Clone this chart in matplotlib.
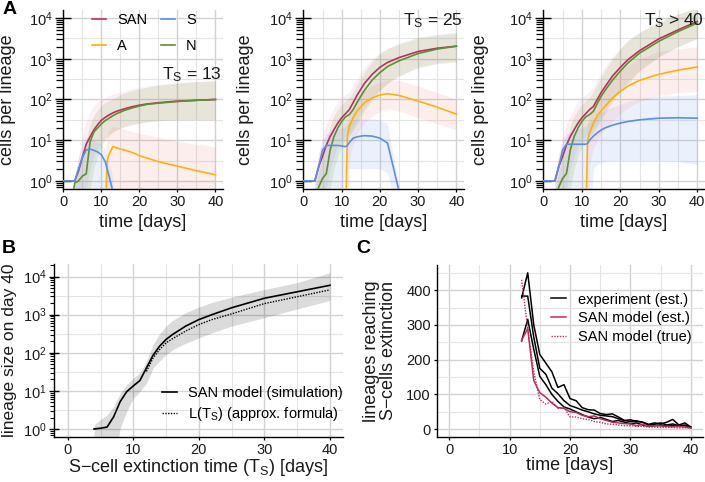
import numpy as np
import matplotlib
matplotlib.use("Agg")
import matplotlib.pyplot as plt
from matplotlib.ticker import LogLocator, MultipleLocator, NullFormatter
from matplotlib.lines import Line2D

plt.rcParams['font.family'] = ['Liberation Sans', 'DejaVu Sans']
plt.rcParams['mathtext.fontset'] = 'custom'
plt.rcParams['mathtext.rm'] = 'Liberation Sans'
plt.rcParams['mathtext.it'] = 'Liberation Sans:italic'
plt.rcParams['mathtext.bf'] = 'Liberation Sans:bold'

nan = np.nan

# ---- panel A: days and log10(cells per lineage) ----
days = [0, 1, 2, 3, 4, 5, 6, 7, 8, 9, 10, 11, 11.5, 12, 13, 14, 15, 16, 18, 20, 22, 25, 30, 35, 40]

# T_S = 13
san_13 = [0, 0, 0, 0, 0.25, 0.58, 0.9, 1.08, 1.25, 1.38, 1.49, 1.56, 1.59, 1.62, 1.67, 1.71, 1.74, 1.77, 1.82, 1.86, 1.89, 1.92, 1.96, 1.98, 2.0]
n_13 = [nan, nan, -0.6, -0.05, 0.0, 0.12, 0.17, 0.95, 1.2, 1.3, 1.4, 1.48, 1.51, 1.54, 1.6, 1.65, 1.69, 1.73, 1.79, 1.84, 1.88, 1.91, 1.95, 1.98, 2.0]
s_13 = [0, 0, 0, 0, 0.3, 0.58, 0.76, 0.78, 0.75, 0.71, 0.64, 0.47, 0.3, 0.12, -0.25] + [nan] * 10
a_13 = [nan] * 11 + [-1, 0.48, 0.65, 0.84, 0.81, 0.78, 0.76, 0.7, 0.62, 0.56, 0.47, 0.36, 0.25, 0.15]
san_13_lo = [nan, nan, nan, -1, -1, -1, -0.2, 0.3, 0.6, 0.8, 0.95, 1.05, 1.1, 1.15, 1.2, 1.25, 1.3, 1.33, 1.38, 1.42, 1.45, 1.48, 1.5, 1.5, 1.5]
san_13_hi = [nan, nan, nan, 0.1, 0.6, 1.1, 1.45, 1.7, 1.85, 1.95, 2.0, 2.05, 2.08, 2.1, 2.13, 2.16, 2.2, 2.22, 2.27, 2.3, 2.33, 2.37, 2.41, 2.44, 2.46]
n_13_lo = [nan, nan, nan, -1, -1, -1, -1, -0.2, 0.3, 0.6, 0.85, 1.0, 1.05, 1.1, 1.2, 1.25, 1.3, 1.33, 1.38, 1.42, 1.45, 1.48, 1.5, 1.5, 1.5]
n_13_hi = [nan, nan, nan, -0.1, 0.3, 0.6, 1.0, 1.4, 1.6, 1.75, 1.85, 1.92, 1.95, 1.97, 2.02, 2.07, 2.12, 2.16, 2.22, 2.26, 2.3, 2.35, 2.4, 2.44, 2.46]
s_13_lo = [nan, nan, nan] + [-1] * 12 + [nan] * 10
s_13_hi = [nan, nan, nan, 0.1, 0.6, 0.95, 1.05, 1.05, 1.0, 0.95, 0.9, 0.75, 0.6, 0.45, 0.1] + [nan] * 10
a_13_lo = [nan] * 11 + [-1] * 14
a_13_hi = [nan] * 11 + [0.5, 1.1, 1.25, 1.34, 1.32, 1.3, 1.27, 1.22, 1.17, 1.13, 1.07, 0.97, 0.9, 0.84]

# T_S = 25
san_25 = [0, 0, 0, 0, 0.35, 0.6, 0.88, 1.09, 1.26, 1.42, 1.55, 1.65, 1.7, 1.75, 1.92, 2.1, 2.25, 2.4, 2.62, 2.79, 2.91, 3.03, 3.18, 3.26, 3.31]
n_25 = [nan, nan, nan, -0.6, -0.15, 0.06, 0.18, 0.76, 1.09, 1.3, 1.46, 1.57, 1.6, 1.63, 1.75, 1.92, 2.08, 2.23, 2.48, 2.66, 2.81, 2.95, 3.13, 3.24, 3.31]
s_25 = [0, 0, 0, 0, 0.35, 0.76, 0.87, 0.87, 0.87, 0.87, 0.86, 0.84, 0.87, 0.94, 1.05, 1.08, 1.1, 1.11, 1.1, 1.05, 0.93, -0.25, nan, nan, nan]
a_25 = [nan] * 11 + [-1, 1.09, 1.34, 1.55, 1.71, 1.82, 1.92, 2.04, 2.11, 2.14, 2.1, 1.96, 1.81, 1.64]
san_25_lo = [nan, nan, nan, -1, -1, -1, -0.2, 0.3, 0.6, 0.85, 1.0, 1.1, 1.15, 1.2, 1.35, 1.5, 1.65, 1.8, 2.05, 2.25, 2.4, 2.58, 2.8, 2.9, 2.95]
san_25_hi = [nan, nan, nan, 0.1, 0.7, 1.1, 1.4, 1.6, 1.8, 1.95, 2.05, 2.12, 2.16, 2.2, 2.35, 2.5, 2.65, 2.8, 3.0, 3.15, 3.25, 3.35, 3.5, 3.58, 3.62]
n_25_lo = [nan, nan, nan, -1, -1, -1, -1, -0.2, 0.3, 0.6, 0.85, 1.0, 1.05, 1.1, 1.25, 1.4, 1.55, 1.72, 2.0, 2.22, 2.4, 2.58, 2.78, 2.88, 2.92]
n_25_hi = [nan, nan, nan, -0.2, 0.2, 0.6, 1.0, 1.35, 1.6, 1.75, 1.88, 1.97, 2.0, 2.05, 2.2, 2.35, 2.52, 2.68, 2.93, 3.12, 3.25, 3.38, 3.53, 3.6, 3.65]
s_25_lo = [nan, nan, nan, -1, -1, -1, -1, -1, -1, -1, -0.2, 0.2, 0.3, 0.3, 0.3, 0.3, 0.3, 0.3, 0.3, 0.3, 0.2, -1, nan, nan, nan]
s_25_hi = [nan, nan, nan, 0.1, 0.6, 1.0, 1.15, 1.2, 1.25, 1.28, 1.3, 1.35, 1.4, 1.45, 1.5, 1.52, 1.52, 1.52, 1.52, 1.5, 1.4, -0.2, nan, nan, nan]
a_25_lo = [nan] * 11 + [-1, -1, 0.5, 0.9, 1.15, 1.3, 1.42, 1.6, 1.7, 1.77, 1.72, 1.55, 1.4, 1.26]
a_25_hi = [nan] * 11 + [0.8, 1.4, 1.65, 1.85, 2.0, 2.12, 2.22, 2.35, 2.43, 2.48, 2.47, 2.33, 2.17, 2.0]

# T_S > 40
san_40 = [0, 0, 0, 0, 0.35, 0.6, 0.88, 1.09, 1.26, 1.42, 1.55, 1.65, 1.7, 1.75, 1.83, 2.0, 2.17, 2.31, 2.58, 2.79, 2.98, 3.2, 3.49, 3.71, 3.92]
n_40 = [nan, nan, nan, -0.6, -0.15, 0.06, 0.18, 0.76, 1.09, 1.3, 1.46, 1.57, 1.6, 1.63, 1.71, 1.9, 2.08, 2.22, 2.48, 2.7, 2.9, 3.14, 3.43, 3.67, 3.88]
s_40 = [0, 0, 0, 0, 0.35, 0.76, 0.9, 0.9, 0.9, 0.9, 0.9, 0.9, 0.92, 1.0, 1.1, 1.18, 1.25, 1.3, 1.37, 1.42, 1.46, 1.5, 1.54, 1.55, 1.54]
a_40 = [nan] * 11 + [-1, 1.0, 1.17, 1.42, 1.6, 1.72, 1.83, 2.04, 2.2, 2.33, 2.47, 2.62, 2.72, 2.8]
san_40_lo = [nan, nan, nan, -1, -1, -1, -0.2, 0.3, 0.6, 0.85, 1.0, 1.1, 1.15, 1.2, 1.3, 1.45, 1.6, 1.75, 2.0, 2.25, 2.45, 2.72, 3.05, 3.3, 3.5]
san_40_hi = [nan, nan, nan, 0.1, 0.7, 1.1, 1.4, 1.6, 1.8, 1.95, 2.05, 2.12, 2.16, 2.2, 2.32, 2.48, 2.65, 2.8, 3.05, 3.25, 3.45, 3.65, 3.92, 4.1, 4.25]
n_40_lo = [nan, nan, nan, -1, -1, -1, -1, -0.2, 0.3, 0.6, 0.85, 1.0, 1.05, 1.1, 1.2, 1.35, 1.5, 1.65, 1.95, 2.2, 2.4, 2.7, 3.05, 3.3, 3.5]
n_40_hi = [nan, nan, nan, -0.2, 0.2, 0.6, 1.0, 1.35, 1.6, 1.75, 1.88, 1.97, 2.0, 2.05, 2.2, 2.37, 2.55, 2.72, 3.0, 3.25, 3.45, 3.65, 3.9, 4.1, 4.25]
s_40_lo = [nan, nan, nan] + [-1] * 11 + [0.3, 0.4, 0.45, 0.48, 0.5, 0.5, 0.5, 0.5, 0.5, 0.48, 0.4]
s_40_hi = [nan, nan, nan, 0.1, 0.6, 1.0, 1.15, 1.2, 1.25, 1.28, 1.3, 1.35, 1.4, 1.45, 1.52, 1.6, 1.68, 1.74, 1.82, 1.88, 1.95, 2.02, 2.08, 2.1, 2.12]
a_40_lo = [nan] * 11 + [-1, -1, 0.4, 0.8, 1.0, 1.15, 1.27, 1.47, 1.65, 1.8, 1.95, 2.1, 2.17, 2.2]
a_40_hi = [nan] * 11 + [0.8, 1.4, 1.65, 1.9, 2.05, 2.18, 2.3, 2.5, 2.7, 2.85, 3.0, 3.18, 3.25, 3.3]

# ---- panel B: log10(lineage size on day 40) vs T_S ----
ts_sim = [4, 5, 6, 7, 8, 9, 10, 11, 12, 13, 14, 15, 16, 18, 20, 22, 25, 30, 35, 40]
size_sim = [0, 0.02, 0.05, 0.32, 0.72, 0.98, 1.13, 1.27, 1.6, 1.93, 2.17, 2.35, 2.48, 2.7, 2.87, 3.0, 3.18, 3.43, 3.6, 3.77]
size_lo = [-1, -1, -1, -1, 0.02, 0.46, 0.81, 0.98, 1.2, 1.6, 1.78, 1.95, 2.08, 2.25, 2.39, 2.52, 2.7, 2.92, 3.15, 3.37]
size_hi = [0.1, 0.25, 0.37, 0.59, 0.94, 1.16, 1.34, 1.47, 1.78, 2.2, 2.5, 2.7, 2.85, 3.05, 3.2, 3.32, 3.46, 3.66, 3.84, 4.1]
ts_formula = [12, 13, 14, 15, 16, 18, 20, 22, 25, 30, 35, 40]
size_formula = [1.51, 1.86, 2.08, 2.26, 2.37, 2.57, 2.74, 2.87, 3.02, 3.29, 3.47, 3.65]

# ---- panel C: lineages reaching S-cell extinction ----
days_c = list(range(12, 41))
exp_1 = [378, 450, 300, 215, 190, 165, 120, 128, 88, 82, 62, 56, 55, 45, 42, 44, 35, 25, 27, 22, 20, 14, 18, 15, 20, 28, 12, 18, 6]
exp_2 = [383, 383, 265, 175, 158, 118, 102, 82, 68, 62, 55, 50, 44, 40, 38, 36, 30, 25, 22, 24, 20, 12, 14, 18, 12, 15, 10, 12, 5]
exp_3 = [254, 316, 230, 152, 128, 100, 80, 64, 58, 50, 42, 35, 30, 34, 28, 22, 25, 20, 16, 18, 12, 8, 10, 12, 9, 10, 8, 10, 4]
san_est = [256, 290, 140, 105, 92, 75, 62, 60, 50, 48, 40, 36, 38, 30, 25, 20, 18, 16, 15, 10, 14, 8, 10, 9, 8, 7, 8, 6, 4]
san_true = [430, 290, 165, 85, 72, 80, 60, 62, 35, 35, 30, 28, 22, 20, 15, 14, 12, 10, 10, 8, 8, 6, 6, 5, 5, 5, 4, 4, 3]

col = {'SAN': '#BE2D5E', 'S': '#5B8DEB', 'A': '#FFB300', 'N': '#5E8F32'}
fill = {'SAN': ('#E0608A', 0.09), 'S': ('#5B8DEB', 0.12), 'A': ('#F06060', 0.10), 'N': ('#5E9A32', 0.13)}
txt = '#1a1a1a'
grid_major = '#d2d2d2'
grid_minor = '#e4e4e4'


def style(ax, log=True, big_ticks=True):
    for s in ['top', 'right']:
        ax.spines[s].set_visible(False)
    for s in ['left', 'bottom']:
        ax.spines[s].set_linewidth(1.0)
        ax.spines[s].set_color('black')
    ax.xaxis.set_major_locator(MultipleLocator(10))
    ax.xaxis.set_minor_locator(MultipleLocator(5))
    ax.tick_params(axis='x', which='major', length=2.5, width=0.9, labelsize=10.5, labelcolor=txt, pad=2)
    ax.tick_params(axis='x', which='minor', length=0)
    ax.grid(axis='x', which='major', color=grid_major, lw=1.0, zorder=0)
    ax.grid(axis='x', which='minor', color=grid_minor, lw=0.8, zorder=0)
    ax.grid(axis='y', which='major', color=grid_major, lw=1.0, zorder=0)
    ax.set_axisbelow(True)
    if log:
        ax.set_yscale('log')
        ax.yaxis.set_major_locator(LogLocator(base=10, numticks=10))
        ax.yaxis.set_minor_locator(LogLocator(base=10, subs=np.arange(2, 10), numticks=10))
        ax.yaxis.set_minor_formatter(NullFormatter())
        if big_ticks:
            ax.tick_params(axis='y', which='major', direction='inout', length=11, width=1.0)
            ax.tick_params(axis='y', which='minor', direction='out', length=4.8, width=0.9)
        else:
            ax.tick_params(axis='y', which='major', direction='inout', length=7, width=1.0)
            ax.tick_params(axis='y', which='minor', direction='out', length=3, width=0.8)
        for k in range(0, 5):
            ax.axhline(10 ** (k + 0.5), color=grid_minor, lw=0.8, zorder=0)
    ax.tick_params(axis='y', labelsize=10.5, labelcolor=txt, pad=2)


fig = plt.figure(figsize=(7.05, 4.82), dpi=100)

panels_a = [
    ([0.0894, 0.6079, 0.227, 0.3714], (san_13, s_13, a_13, n_13),
     (san_13_lo, san_13_hi, s_13_lo, s_13_hi, a_13_lo, a_13_hi, n_13_lo, n_13_hi),
     r'$\mathregular{T_S}$ = 13', 0.64, -0.294),
    ([0.4298, 0.6079, 0.2284, 0.3714], (san_25, s_25, a_25, n_25),
     (san_25_lo, san_25_hi, s_25_lo, s_25_hi, a_25_lo, a_25_hi, n_25_lo, n_25_hi),
     r'$\mathregular{T_S}$ = 25', 0.94, -0.304),
    ([0.7702, 0.6079, 0.2298, 0.3714], (san_40, s_40, a_40, n_40),
     (san_40_lo, san_40_hi, s_40_lo, s_40_hi, a_40_lo, a_40_hi, n_40_lo, n_40_hi),
     r'$\mathregular{T_S}$ > 40', 0.94, -0.333),
]

d = np.array(days)
for i, (rect, lines, ribs, label, ly, ylab_x) in enumerate(panels_a):
    ax = fig.add_axes(rect)
    style(ax)
    names = ['SAN', 'S', 'A', 'N']
    for j, name in enumerate(names):
        lo = np.array(ribs[2 * j], dtype=float)
        hi = np.array(ribs[2 * j + 1], dtype=float)
        ok = ~np.isnan(lo)
        c, a = fill[name]
        ax.fill_between(d, 10 ** lo, 10 ** hi, where=ok, color=c, alpha=a, lw=0, zorder=1)
    vals = dict(zip(names, lines))
    for name in ['SAN', 'N', 'A', 'S']:
        ax.plot(d, 10 ** np.array(vals[name], dtype=float), color=col[name], lw=1.2, zorder=3)
    ax.set_xlim(-0.1, 42)
    ax.set_ylim(10 ** -0.2, 10 ** 4.2)
    ax.set_xlabel('time [days]', fontsize=13, color=txt)
    ax.set_ylabel('cells per lineage', fontsize=13, color=txt)
    ax.xaxis.set_label_coords(0.5, -0.14)
    ax.yaxis.set_label_coords(ylab_x, 0.5)
    ax.text(0.99, ly, label, transform=ax.transAxes, ha='right', va='center', fontsize=12.5, color=txt)
    if i == 0:
        handles = [Line2D([], [], color=col['SAN'], lw=1.2), Line2D([], [], color=col['A'], lw=1.2),
                   Line2D([], [], color=col['S'], lw=1.2), Line2D([], [], color=col['N'], lw=1.2)]
        ax.legend(handles, ['SAN', 'A', 'S', 'N'], ncol=2, loc='upper left', bbox_to_anchor=(0.18, 0.985),
                  frameon=False, fontsize=10.5, handlelength=1.0, handletextpad=0.75,
                  columnspacing=0.9, labelspacing=0.85, borderpad=0, borderaxespad=0)

# panel B
axb = fig.add_axes([0.0766, 0.0934, 0.41, 0.359])
style(axb, big_ticks=False)
axb.fill_between(ts_sim, 10 ** np.array(size_lo), 10 ** np.array(size_hi), color='black', alpha=0.14, lw=0, zorder=1)
axb.plot(ts_sim, 10 ** np.array(size_sim), color='black', lw=1.2, zorder=3, label='SAN model (simulation)')
axb.plot(ts_formula, 10 ** np.array(size_formula), color='black', lw=1.0, ls=(0, (1, 1)), zorder=3,
         label=r'$\mathregular{L(T_S)}$ (approx. formula)')
axb.set_xlim(-2.1, 42)
axb.set_ylim(10 ** -0.21, 10 ** 4.33)
axb.set_xlabel(r'S$-$cell extinction time ($\mathregular{T_S}$) [days]', fontsize=13, color=txt)
axb.set_ylabel('lineage size on day 40', fontsize=12.5, color=txt)
axb.xaxis.set_label_coords(0.5, -0.115)
axb.yaxis.set_label_coords(-0.128, 0.5)
axb.legend(loc='lower right', bbox_to_anchor=(1.0, 0.08), frameon=False, fontsize=10.5,
           handlelength=1.0, handletextpad=0.8, labelspacing=0.37, borderpad=0, borderaxespad=0)

# panel C
axc = fig.add_axes([0.6199, 0.0934, 0.3773, 0.3568])
style(axc, log=False)
axc.yaxis.set_major_locator(MultipleLocator(100))
axc.yaxis.set_minor_locator(MultipleLocator(50))
axc.tick_params(axis='y', which='major', length=2.5, width=0.9)
axc.tick_params(axis='y', which='minor', length=0)
axc.grid(axis='y', which='minor', color=grid_minor, lw=0.8, zorder=0)
for series in [exp_1, exp_2, exp_3]:
    axc.plot(days_c, series, color='black', lw=1.1, zorder=3)
axc.plot(days_c, san_est, color=col['SAN'], lw=1.1, zorder=3)
axc.plot(days_c, san_true, color=col['SAN'], lw=1.0, ls=(0, (1, 1)), zorder=3)
axc.set_xlim(-2, 42)
axc.set_ylim(-22.5, 472.5)
axc.set_xlabel('time [days]', fontsize=13, color=txt)
axc.set_ylabel('lineages reaching\nS$-$cells extinction', fontsize=13, color=txt, linespacing=1.0)
axc.xaxis.set_label_coords(0.5, -0.115)
axc.yaxis.set_label_coords(-0.15, 0.5)
hc = [Line2D([], [], color='black', lw=1.1), Line2D([], [], color=col['SAN'], lw=1.1),
      Line2D([], [], color=col['SAN'], lw=1.0, ls=(0, (1, 1)))]
axc.legend(hc, ['experiment (est.)', 'SAN model (est.)', 'SAN model (true)'], loc='upper left',
           bbox_to_anchor=(0.43, 0.84), frameon=False, fontsize=10.5, handlelength=1.0,
           handletextpad=0.8, labelspacing=0.34, borderpad=0, borderaxespad=0)

fig.text(0.003, 0.998, 'A', fontsize=14, fontweight='bold', va='top', ha='left')
fig.text(0.003, 0.502, 'B', fontsize=14, fontweight='bold', va='top', ha='left')
fig.text(0.506, 0.502, 'C', fontsize=14, fontweight='bold', va='top', ha='left')

fig.savefig('out.png', dpi=100)
